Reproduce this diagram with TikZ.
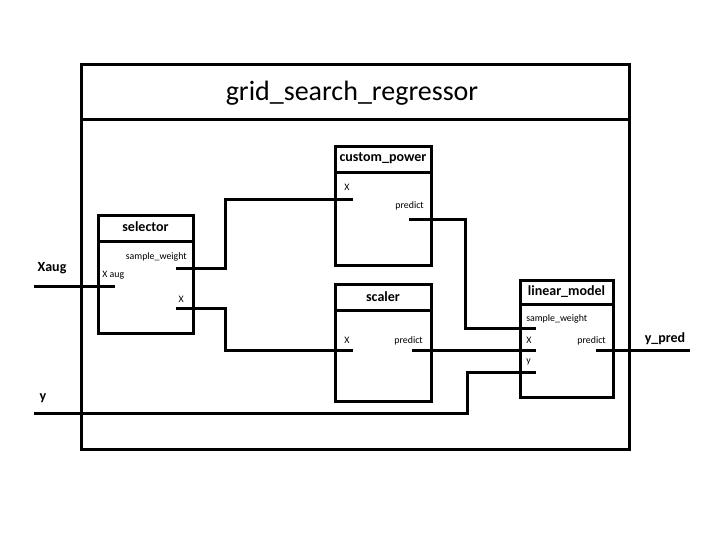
\documentclass[tikz,border=0pt]{standalone}
\usepackage{fontspec}
\setmainfont{Carlito}
\begin{document}
\begin{tikzpicture}[x=0.75pt,y=-0.75pt,
  wire/.style={line width=2.25pt},
  frame/.style={line width=2.25pt},
  boxtitle/.style={font=\bfseries\fontsize{10.5pt}{12pt}\selectfont, inner sep=0pt},
  port/.style={font=\fontsize{7.4pt}{9pt}\selectfont, inner sep=0pt},
  extlabel/.style={font=\bfseries\fontsize{10.5pt}{12pt}\selectfont, inner sep=0pt}]
\useasboundingbox (0,0) rectangle (720,540);
% outer frame
\draw[frame] (81,64) rectangle (629,449);
\draw[frame] (81,119) -- (629,119);
\node[inner sep=0pt, font=\fontsize{21pt}{24pt}\selectfont] (title) at (352,93) {grid\_search\_regressor};
% selector
\draw[frame] (98,215) rectangle (193,333);
\draw[frame] (98,241) -- (193,241);
\node[boxtitle] (seltitle) at (145.5,227) {selector};
\node[port, anchor=east] (selsw) at (187,257) {sample\_weight};
\node[port, anchor=west] (selxa) at (102,275) {X aug};
\node[port, anchor=east] (selx) at (184,299) {X};
% custom_power
\draw[frame] (335,146) rectangle (431,265);
\draw[frame] (335,172) -- (431,172);
\node[boxtitle] (cptitle) at (383,158) {custom\_power};
\node[port, anchor=west] (cpx) at (344,187) {X};
\node[port, anchor=east] (cppred) at (424,206) {predict};
% scaler
\draw[frame] (335,284) rectangle (431,401);
\draw[frame] (335,310) -- (431,310);
\node[boxtitle] (sctitle) at (383,297) {scaler};
\node[port, anchor=west] (scx) at (344,340) {X};
\node[port, anchor=east] (scpred) at (423,341) {predict};
% linear_model
\draw[frame] (520,280) rectangle (613,397);
\draw[frame] (520,304) -- (613,304);
\node[boxtitle] (lmtitle) at (566.5,292) {linear\_model};
\node[port, anchor=west] (lmsw) at (526,319) {sample\_weight};
\node[port, anchor=west] (lmx) at (526,340) {X};
\node[port, anchor=east] (lmpred) at (606,341) {predict};
\node[port, anchor=west] (lmy) at (526,362) {y};
% external labels
\node[extlabel] (xaug) at (52,268) {Xaug};
\node[extlabel] (ylab) at (43,398) {y};
\node[extlabel] (ypred) at (665,339) {y\_pred};
% port coordinates
\coordinate (inXaug) at (34,286);
\coordinate (pSelXaug) at (115,286);
\coordinate (pSelSW) at (176,268);
\coordinate (pSelX) at (176,308);
\coordinate (pCpX) at (353,199);
\coordinate (pCpPred) at (409,219);
\coordinate (pScX) at (353,350);
\coordinate (pScPred) at (412,350);
\coordinate (pLmSW) at (536,328);
\coordinate (pLmX) at (536,350);
\coordinate (pLmY) at (536,372);
\coordinate (pLmPred) at (596,350);
\coordinate (inY) at (34,413);
\coordinate (outYpred) at (690,350);
% connectors
\draw[wire] (inXaug) -- (pSelXaug);
\draw[wire] (pSelSW) -| (225,199) -- (pCpX);
\draw[wire] (pSelX) -| (225,350) -- (pScX);
\draw[wire] (pCpPred) -| (465,328) -- (pLmSW);
\draw[wire] (pScPred) -- (pLmX);
\draw[wire] (inY) -| (467,372) -- (pLmY);
\draw[wire] (pLmPred) -- (outYpred);
\end{tikzpicture}
\end{document}
